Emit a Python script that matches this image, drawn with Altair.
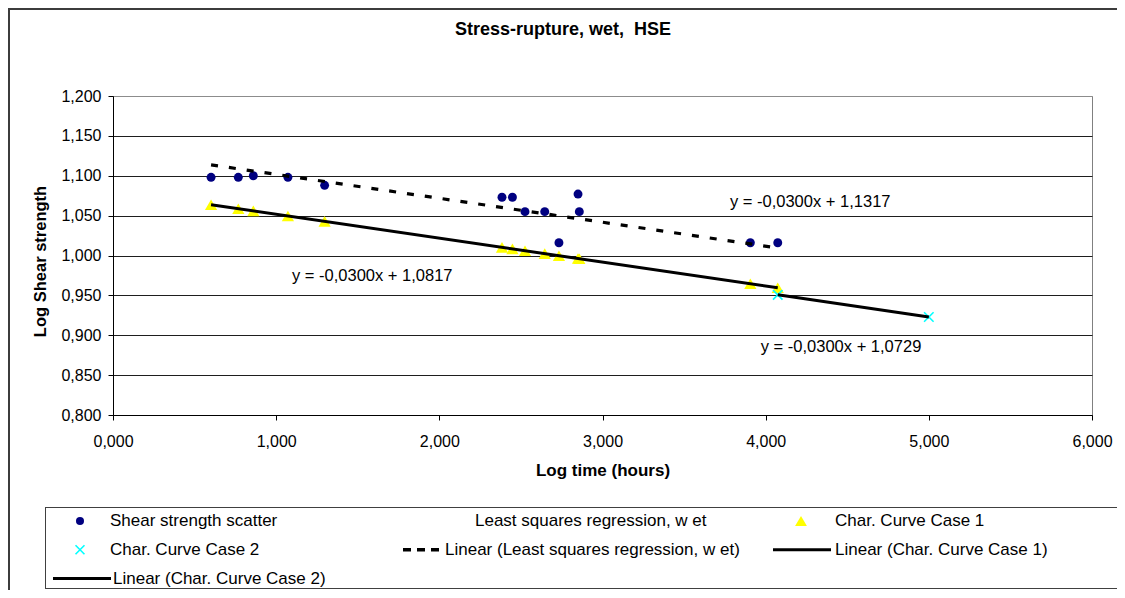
import altair as alt
import pandas as pd

# ---------------- data ----------------
log_time = [0.601, 0.768, 0.860, 1.072, 1.297, 2.384, 2.448, 2.525, 2.646, 2.733, 2.850, 2.858, 3.906, 4.074]
shear_scatter = [1.098, 1.098, 1.100, 1.098, 1.088, 1.073, 1.073, 1.055, 1.055, 1.016, 1.077, 1.055, 1.016, 1.016]
lsr_wet = [1.1137, 1.1087, 1.1059, 1.0995, 1.0928, 1.0602, 1.0583, 1.0560, 1.0523, 1.0497, 1.0462, 1.0460, 1.0145, 1.0095]
case1 = [1.0637, 1.0587, 1.0559, 1.0495, 1.0428, 1.0102, 1.0083, 1.0060, 1.0023, 0.9997, 0.9962, 0.9960, 0.9645, 0.9595]
case2_time = [4.074, 5.000]
case2 = [0.9507, 0.9229]

eq_labels = ["y = -0,0300x + 1,1317", "y = -0,0300x + 1,0817", "y = -0,0300x + 1,0729"]
eq_x = [4.273, 1.589, 4.462]
eq_y = [1.0671, 0.9749, 0.8853]

x_ticks = [0, 1, 2, 3, 4, 5, 6]
y_ticks = [0.80, 0.85, 0.90, 0.95, 1.00, 1.05, 1.10, 1.15, 1.20]

title_text = "Stress-rupture, wet,\u00a0 HSE"

# legend content
legend_labels = ["Shear strength scatter", "Least squares regression, w et", "Char. Curve Case 1",
                 "Char. Curve Case 2", "Linear (Least squares regression, w et)", "Linear (Char. Curve Case 1)",
                 "Linear (Char. Curve Case 2)"]
legend_rows = [0, 0, 0, 1, 1, 1, 2]
legend_text_pos = [65, 430, 790, 65, 400, 790, 68]

FONT = "Liberation Sans"

# ---------------- tables ----------------
scatter_df = pd.DataFrame({"x": log_time, "y": shear_scatter})
lsr_df = pd.DataFrame({"x": log_time, "y": lsr_wet})
case1_df = pd.DataFrame({"x": log_time, "y": case1})
case2_df = pd.DataFrame({"x": case2_time, "y": case2})
eq_df = pd.DataFrame({"x": eq_x, "y": eq_y, "label": eq_labels})

fmt = "replace(format(datum.value, '.3f'), '.', ',')"

xscale = alt.Scale(domain=[0, 6], nice=False, zero=False)
yscale = alt.Scale(domain=[0.8, 1.2], nice=False, zero=False)

x_axis = alt.Axis(title="Log time (hours)", values=x_ticks, labelExpr=fmt, grid=False,
                  tickSize=5, labelPadding=13, titlePadding=13, labelFontSize=16,
                  titleFontSize=17, titleFontWeight="bold", labelFlush=False)
y_axis = alt.Axis(title="Log Shear strength", values=y_ticks, labelExpr=fmt, grid=True,
                  gridColor={"condition": {"test": "datum.value >= 1.19", "value": "#8c8c8c"},
                             "value": "#1e1e1e"},
                  tickSize=5, labelPadding=7, titlePadding=12, labelFontSize=16,
                  titleFontSize=16.5, titleFontWeight="bold", titleY=165, labelFlush=False)

X = alt.X("x:Q", scale=xscale, axis=x_axis)
Y = alt.Y("y:Q", scale=yscale, axis=y_axis)

scatter = alt.Chart(scatter_df).mark_point(shape="circle", filled=True, size=80,
                                             color="#000080", opacity=1).encode(x=X, y=Y)
tri = alt.Chart(case1_df).mark_point(shape="triangle-up", filled=True, size=150,
                                      color="#FFFF00", opacity=1).encode(x=X, y=Y)
cross = alt.Chart(case2_df).mark_point(shape="M-1,-1L1,1M-1,1L1,-1", filled=False, size=90,
                                        stroke="#00FFFF", strokeWidth=1.6, opacity=1).encode(x=X, y=Y)

lsr_line = alt.Chart(lsr_df).transform_regression("x", "y", method="linear").mark_line(
    color="black", strokeWidth=3.2, strokeDash=[7, 11]).encode(x=X, y=Y)
c1_line = alt.Chart(case1_df).transform_regression("x", "y", method="linear").mark_line(
    color="black", strokeWidth=3).encode(x=X, y=Y)
c2_line = alt.Chart(case2_df).transform_regression("x", "y", method="linear").mark_line(
    color="black", strokeWidth=3).encode(x=X, y=Y)

eqs = alt.Chart(eq_df).mark_text(font=FONT, fontSize=16.5, color="black", baseline="middle",
                                 align="center").encode(x=X, y=Y, text="label:N")

main = alt.layer(scatter, tri, cross, lsr_line, c1_line, c2_line, eqs)

# ---------------- legend (own scales) ----------------
LX = alt.Scale(domain=[0, 1080], range=[-68, 1012], nice=False, zero=False)
LY = alt.Scale(domain=[0, 2], range=[425, 482.5], nice=False, zero=False)

leg_text_df = pd.DataFrame({"lx": legend_text_pos, "row": legend_rows, "label": legend_labels})
leg_text = alt.Chart(leg_text_df).mark_text(font=FONT, fontSize=17, color="black", align="left",
                                            baseline="middle").encode(
    x=alt.X("lx:Q", scale=LX, axis=None), y=alt.Y("row:Q", scale=LY, axis=None), text="label:N")

leg_circle = alt.Chart(pd.DataFrame({"lx": [35], "row": [0]})).mark_point(
    shape="circle", filled=True, size=65, color="#000080", opacity=1).encode(
    x=alt.X("lx:Q", scale=LX, axis=None), y=alt.Y("row:Q", scale=LY, axis=None))
leg_tri = alt.Chart(pd.DataFrame({"lx": [756], "row": [0]})).mark_point(
    shape="triangle-up", filled=True, size=140, color="#FFFF00", opacity=1).encode(
    x=alt.X("lx:Q", scale=LX, axis=None), y=alt.Y("row:Q", scale=LY, axis=None))
leg_cross = alt.Chart(pd.DataFrame({"lx": [35], "row": [1]})).mark_point(
    shape="M-1,-1L1,1M-1,1L1,-1", filled=False, size=80, stroke="#00FFFF", strokeWidth=1.6,
    opacity=1).encode(
    x=alt.X("lx:Q", scale=LX, axis=None), y=alt.Y("row:Q", scale=LY, axis=None))
leg_dash = alt.Chart(pd.DataFrame({"lx": [358], "lx2": [398], "row": [1]})).mark_rule(
    color="black", strokeWidth=3.5, strokeDash=[8, 6]).encode(
    x=alt.X("lx:Q", scale=LX, axis=None), x2="lx2:Q", y=alt.Y("row:Q", scale=LY, axis=None))
leg_solid = alt.Chart(pd.DataFrame({"lx": [728, 8], "lx2": [786, 66], "row": [1, 2]})).mark_rule(
    color="black", strokeWidth=3).encode(
    x=alt.X("lx:Q", scale=LX, axis=None), x2="lx2:Q", y=alt.Y("row:Q", scale=LY, axis=None))

legend = alt.layer(leg_circle, leg_tri, leg_cross, leg_dash, leg_solid, leg_text)

# ---------------- frame decorations ----------------
one = alt.Data(values=[{}])
border_top = alt.Chart(one).mark_rule(color="#3c3c3c", strokeWidth=2).encode(
    x=alt.value(-105), x2=alt.value(1004), y=alt.value(-87))
border_left = alt.Chart(one).mark_rule(color="#3c3c3c", strokeWidth=2).encode(
    x=alt.value(-104), y=alt.value(-88), y2=alt.value(494))
leg_top = alt.Chart(one).mark_rule(color="#404040", strokeWidth=1).encode(
    x=alt.value(-68), x2=alt.value(1004), y=alt.value(411.5))
leg_bottom = alt.Chart(one).mark_rule(color="#404040", strokeWidth=1).encode(
    x=alt.value(-68), x2=alt.value(1004), y=alt.value(492.5))
leg_left = alt.Chart(one).mark_rule(color="#404040", strokeWidth=1).encode(
    x=alt.value(-67.5), y=alt.value(411.5), y2=alt.value(492.5))
title_mark = alt.Chart(one).mark_text(font=FONT, fontSize=18, fontWeight="bold", color="black",
                                      align="center", baseline="alphabetic").encode(
    x=alt.value(450), y=alt.value(-61), text=alt.value(title_text))

deco = alt.layer(border_top, border_left, leg_top, leg_bottom, leg_left, title_mark)

chart = alt.layer(main, legend, deco).resolve_scale(
    x="independent", y="independent"
).properties(
    width=979, height=319,
    autosize=alt.AutoSizeParams(type="none"),
    padding={"left": 105, "top": 88, "right": 25, "bottom": 175},
    background="white",
).configure_view(
    stroke="#808080", strokeWidth=1
).configure_axis(
    labelFont=FONT, titleFont=FONT, labelColor="black", titleColor="black",
    domainColor="black", tickColor="black", domainWidth=1, tickWidth=1, gridWidth=1
)

chart.save("out.html", embed_options={"renderer": "svg", "actions": False})
